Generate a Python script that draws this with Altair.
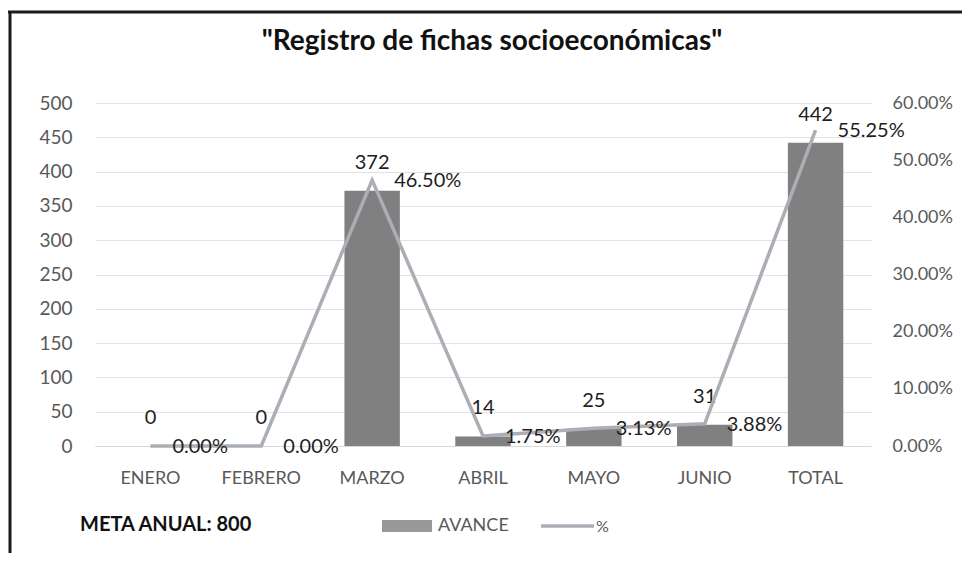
import altair as alt
import pandas as pd

meses = ["ENERO", "FEBRERO", "MARZO", "ABRIL", "MAYO", "JUNIO", "TOTAL"]
avance = [0, 0, 372, 14, 25, 31, 442]
porcentaje = [0.0, 0.0, 0.4650, 0.0175, 0.03125, 0.03875, 0.5525]

df = pd.DataFrame({"mes": meses, "avance": avance, "pct": porcentaje})

FONT = "Lato"
GRAY_TXT = "#595959"
BAR_COLOR = "#808080"
LINE_COLOR = "#acaeb6"

x_axis = alt.Axis(labelAngle=0, labelFontSize=18, labelColor=GRAY_TXT,
                  labelFont=FONT, labelPadding=23, ticks=False,
                  domainColor="#d9d9d9", domainWidth=1)
x_enc = alt.X("mes:N", sort=meses, title=None,
              scale=alt.Scale(paddingInner=0.5, paddingOuter=0.25), axis=x_axis)

left_axis = alt.Axis(values=list(range(0, 501, 50)), labelFontSize=19,
                     labelColor=GRAY_TXT, labelFont=FONT, labelPadding=23,
                     ticks=False, domain=False, gridColor="#e2e2e2",
                     gridWidth=1, orient="left", labelOverlap=False)
y_left = alt.Y("avance:Q", title=None, scale=alt.Scale(domain=[0, 500], nice=False),
               axis=left_axis)

right_axis = alt.Axis(format=".2%", values=[0, 0.1, 0.2, 0.3, 0.4, 0.5, 0.6],
                      labelFontSize=18, labelColor=GRAY_TXT, labelFont=FONT,
                      labelPadding=21, ticks=False, domain=False, grid=False,
                      orient="right", labelOverlap=False)
y_right = alt.Y("pct:Q", title=None, scale=alt.Scale(domain=[0, 0.6], nice=False),
                axis=right_axis)

bars = alt.Chart(df).mark_bar(color=BAR_COLOR).encode(x=x_enc, y=y_left)

bar_labels = alt.Chart(df).mark_text(
    baseline="bottom", dy=-18, fontSize=20, font=FONT, color="#1e1e1e"
).encode(x=x_enc, y=y_left, text=alt.Text("avance:Q"))

left = alt.layer(bars, bar_labels)

line = alt.Chart(df).mark_line(color=LINE_COLOR, strokeWidth=3.5).encode(x=x_enc, y=y_right)

pct_labels = alt.Chart(df).mark_text(
    align="left", baseline="middle", dx=22, dy=1, fontSize=20, font=FONT, color="#1e1e1e"
).encode(x=x_enc, y=y_right, text=alt.Text("pct:Q", format=".2%"))

right = alt.layer(line, pct_labels)

# Title, legend and frame decorations
title = alt.Chart(pd.DataFrame({"t": ['"Registro de fichas socioeconómicas"']})).mark_text(
    fontSize=28, fontWeight="bold", font=FONT, color="#111111", align="center", baseline="middle"
).encode(x=alt.value(397), y=alt.value(-61), text="t:N")

meta = alt.Chart(pd.DataFrame({"t": ["META ANUAL: 800"]})).mark_text(
    fontSize=20, fontWeight="bold", font=FONT, color="#111111", align="left", baseline="middle"
).encode(x=alt.value(-15), y=alt.value(422), text="t:N")

leg_rect = alt.Chart(pd.DataFrame({"a": [1]})).mark_rect(color="#999999").encode(
    x=alt.value(287), x2=alt.value(337), y=alt.value(417), y2=alt.value(429))

leg_rect_txt = alt.Chart(pd.DataFrame({"t": ["AVANCE"]})).mark_text(
    fontSize=18, font=FONT, color=GRAY_TXT, align="left", baseline="middle"
).encode(x=alt.value(343), y=alt.value(423), text="t:N")

leg_line = alt.Chart(pd.DataFrame({"a": [1]})).mark_rule(color=LINE_COLOR, strokeWidth=3.5).encode(
    x=alt.value(446), x2=alt.value(499), y=alt.value(423))

leg_line_txt = alt.Chart(pd.DataFrame({"t": ["%"]})).mark_text(
    fontSize=16, font=FONT, color=GRAY_TXT, align="left", baseline="middle"
).encode(x=alt.value(501), y=alt.value(424), text="t:N")

frame_top = alt.Chart(pd.DataFrame({"a": [1]})).mark_rule(color="#1a1a1a", strokeWidth=3).encode(
    x=alt.value(-87), x2=alt.value(880), y=alt.value(-91))

frame_left = alt.Chart(pd.DataFrame({"a": [1]})).mark_rule(color="#1a1a1a", strokeWidth=3).encode(
    x=alt.value(-85), y=alt.value(-92), y2=alt.value(470))

deco = alt.layer(title, meta, leg_rect, leg_rect_txt, leg_line, leg_line_txt, frame_top, frame_left)

chart = alt.layer(left, right, deco).resolve_scale(y="independent").properties(
    width=776, height=343,
    background="white",
    autosize=alt.AutoSizeParams(type="none"),
    padding={"left": 87, "top": 95, "right": 91, "bottom": 107},
).configure_view(stroke=None)

chart.save("out.html", embed_options={"renderer": "svg", "actions": False})
